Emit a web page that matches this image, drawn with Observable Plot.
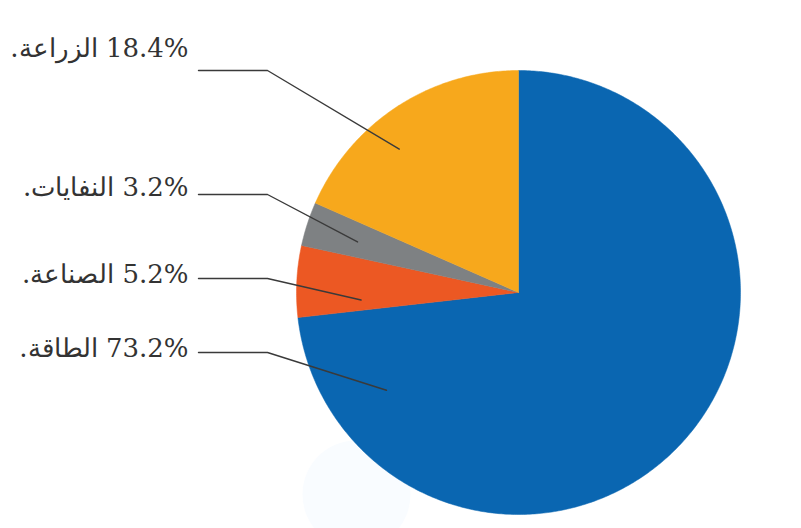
<!DOCTYPE html>
<html><head><meta charset="utf-8">
<script src="https://cdn.jsdelivr.net/npm/d3@7"></script>
<script src="https://cdn.jsdelivr.net/npm/@observablehq/plot@0.6"></script>
<style>body{margin:0;background:#fff}</style>
</head><body><div id="chart"></div>
<script>
const categories = ["الطاقة", "الصناعة", "النفايات", "الزراعة"];
const values = [73.2, 5.2, 3.2, 18.4];
const colors = ["#0a66b1", "#ec5823", "#7e8183", "#f7a81c"];

// layout (pixels)
const W = 801, H = 528, cx = 518, cy = 292, R = 222;
const labelY = [352, 278, 194, 70];       // elbow heights
const textDy = [-4, -4, -7, -22];          // text centre offset from elbow
const anchorT = [0.886, 0.2, 0.45, 0.4];   // position within slice (fraction of its angle)
const anchorR = [0.74, 0.71, 0.76, 0.84];  // radius fraction

const total = d3.sum(values);
let acc = 0;
const slices = values.map((v, i) => {
  const a0 = acc / total * 2 * Math.PI; acc += v;
  const a1 = acc / total * 2 * Math.PI;
  return {i, a0, a1};
});
const pt = (a, r) => [cx + r * Math.sin(a), cy - r * Math.cos(a)];

const marks = [];
// faint background disc (watermark in the source)
marks.push(Plot.dot([{x: 356, y: 494}], {x: "x", y: "y", r: 54, fill: "#f9fcff", stroke: "none"}));

slices.forEach(s => {
  const pts = [[cx, cy]];
  const n = Math.max(8, Math.ceil((s.a1 - s.a0) / 0.01));
  for (let k = 0; k <= n; k++) pts.push(pt(s.a0 + (s.a1 - s.a0) * k / n, R));
  pts.push([cx, cy]);
  marks.push(Plot.line(pts, {x: d => d[0], y: d => d[1], fill: colors[s.i], stroke: colors[s.i], strokeWidth: 0.5, curve: "linear"}));
});

const leaders = [];
slices.forEach(s => {
  const a = s.a0 + (s.a1 - s.a0) * anchorT[s.i];
  const p = pt(a, R * anchorR[s.i]);
  leaders.push({k: s.i, x: 198, y: labelY[s.i]});
  leaders.push({k: s.i, x: 267, y: labelY[s.i]});
  leaders.push({k: s.i, x: p[0], y: p[1]});
});
marks.push(Plot.line(leaders, {x: "x", y: "y", z: "k", stroke: "#3a3a3a", strokeWidth: 1.4}));

const labels = categories.map((c, i) => ({
  text: "\u202B" + values[i].toFixed(1) + "% " + c + ".\u202C",
  y: labelY[i] + textDy[i]
}));
marks.push(Plot.text(labels, {x: 188, y: "y", text: "text", textAnchor: "end", fontSize: 26, fill: "#333", fontFamily: "DejaVu Serif, serif"}));

const chart = Plot.plot({
  width: W, height: H, margin: 0,
  x: {domain: [0, W], range: [0, W], axis: null},
  y: {domain: [0, H], range: [0, H], axis: null},
  marks
});
document.getElementById("chart").append(chart);
</script></body></html>
